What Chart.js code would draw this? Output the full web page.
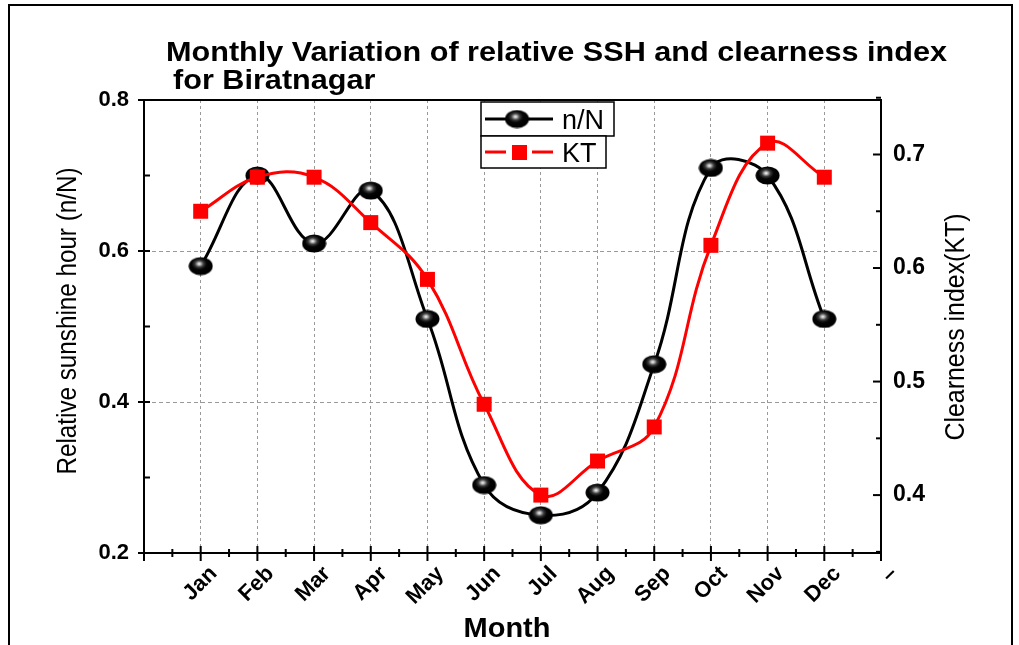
<!DOCTYPE html>
<html><head><meta charset="utf-8">
<script src="https://cdn.jsdelivr.net/npm/chart.js@4.4.1/dist/chart.umd.min.js"></script>
<style>
html,body{margin:0;padding:0;background:#fff;}
#wrap{position:relative;width:1019px;height:645px;overflow:hidden;background:#fff;}
canvas{display:block;}
</style></head><body>
<div id="wrap"><canvas id="c" width="1019" height="645"></canvas></div>
<script>
// ---- data ----
const months = ['Jan','Feb','Mar','Apr','May','Jun','Jul','Aug','Sep','Oct','Nov','Dec'];
const xTickLabels = ['', 'Jan','Feb','Mar','Apr','May','Jun','Jul','Aug','Sep','Oct','Nov','Dec', '–'];
const relSSH = [0.58, 0.70, 0.61, 0.68, 0.51, 0.29, 0.25, 0.28, 0.45, 0.71, 0.70, 0.51];
const clearnessKT = [0.65, 0.68, 0.68, 0.64, 0.59, 0.48, 0.40, 0.43, 0.46, 0.62, 0.71, 0.68];
const leftTicks = [0.2, 0.4, 0.6, 0.8];
const rightTicks = [0.4, 0.5, 0.6, 0.7];
const titleLines = ['Monthly Variation of relative SSH and clearness index', 'for Biratnagar'];
const seriesNames = ['n/N', 'KT'];
const xTitle = 'Month';
const yTitle = 'Relative sunshine hour (n/N)';
const y1Title = 'Clearness index(KT)';

const FONT = '"Liberation Sans", Arial, sans-serif';

function makeSphere(w, h) {
  const c = document.createElement('canvas');
  c.width = w; c.height = h;
  const g = c.getContext('2d');
  g.save();
  g.translate(w / 2, h / 2);
  g.scale(1, h / w);
  const grd = g.createRadialGradient(-1.5, -3, 0, -1.5, -3, w / 2);
  grd.addColorStop(0, '#ffffff');
  grd.addColorStop(0.12, '#c0c0c0');
  grd.addColorStop(0.35, '#3a3a3a');
  grd.addColorStop(0.6, '#050505');
  grd.addColorStop(1, '#000000');
  g.fillStyle = grd;
  g.beginPath();
  g.arc(0, 0, w / 2 - 0.5, 0, Math.PI * 2);
  g.fill();
  g.restore();
  return c;
}
const sphere = makeSphere(25, 19);

function fitText(ctx, text, x, y, font, targetW, align, rot, baseline) {
  ctx.save();
  ctx.font = font;
  const w = ctx.measureText(text).width;
  const sx = targetW ? targetW / w : 1;
  ctx.translate(x, y);
  if (rot) ctx.rotate(rot);
  ctx.scale(sx, 1);
  ctx.textAlign = align || 'left';
  ctx.textBaseline = baseline || 'alphabetic';
  ctx.fillStyle = '#000';
  ctx.fillText(text, 0, 0);
  ctx.restore();
  return sx;
}

function seg(ctx, x1, y1, x2, y2) {
  ctx.beginPath(); ctx.moveTo(x1, y1); ctx.lineTo(x2, y2); ctx.stroke();
}

const decor = {
  id: 'decor',
  afterDraw(chart) {
    const ctx = chart.ctx;
    const a = chart.chartArea;
    const xs = chart.scales.x, ys = chart.scales.y, y1s = chart.scales.y1;
    ctx.save();
    ctx.strokeStyle = '#000';
    ctx.lineWidth = 2;
    seg(ctx, a.left - 1, a.top, a.right + 1, a.top);
    for (let i = 0; i <= 26; i++) {
      const px = xs.getPixelForValue(i / 2);
      if (i % 2 === 0) seg(ctx, px, a.bottom - 7, px, a.bottom + 8);
      else seg(ctx, px, a.bottom - 4, px, a.bottom + 4);
    }
    for (let i = 2; i <= 8; i++) {
      const py = ys.getPixelForValue(i / 10);
      if (i % 2 === 0) seg(ctx, a.left - 6, py, a.left + 6, py);
      else seg(ctx, a.left, py, a.left + 6, py);
    }
    for (let i = 7; i <= 15; i++) {
      const py = y1s.getPixelForValue(i / 20);
      if (i % 2 === 0) seg(ctx, a.right - 8, py, a.right, py);
      else seg(ctx, a.right - 5, py, a.right, py);
    }
    ctx.beginPath();
    ctx.moveTo(9, 650); ctx.lineTo(9, 5); ctx.lineTo(1012, 5); ctx.lineTo(1012, 650);
    ctx.stroke();

    const sx = fitText(ctx, titleLines[0], 166, 61, 'bold 27px ' + FONT, 781, 'left');
    ctx.save();
    ctx.font = 'bold 27px ' + FONT;
    ctx.translate(173, 89); ctx.scale(sx, 1); ctx.fillStyle = '#000';
    ctx.fillText(titleLines[1], 0, 0);
    ctx.restore();
    fitText(ctx, xTitle, 507, 637, 'bold 27px ' + FONT, 87, 'center');
    fitText(ctx, yTitle, 76, 321, '27px ' + FONT, 307, 'center', -Math.PI / 2, 'alphabetic');
    fitText(ctx, y1Title, 964, 327, '28px ' + FONT, 227, 'center', -Math.PI / 2, 'alphabetic');

    const ds = chart.data.datasets;
    ctx.lineWidth = 1.5;
    ctx.fillStyle = '#fff';
    ctx.strokeStyle = '#000';
    ctx.fillRect(481, 102, 133, 34); ctx.strokeRect(481, 102, 133, 34);
    ctx.fillRect(481, 136, 125, 32); ctx.strokeRect(481, 136, 125, 32);
    const dN = ds.find(d => d.label === seriesNames[0]);
    ctx.strokeStyle = dN.borderColor; ctx.lineWidth = 3;
    seg(ctx, 485, 119, 553, 119);
    ctx.drawImage(sphere, 517 - 12.5, 119 - 9.5);
    ctx.fillStyle = '#000';
    ctx.font = '27px ' + FONT;
    ctx.textAlign = 'left'; ctx.textBaseline = 'alphabetic';
    ctx.fillText(dN.label, 562, 129);
    const dK = ds.find(d => d.label === seriesNames[1]);
    ctx.strokeStyle = dK.borderColor; ctx.lineWidth = 3;
    seg(ctx, 485, 152, 506, 152);
    seg(ctx, 532, 152, 553, 152);
    ctx.fillStyle = dK.pointBackgroundColor;
    ctx.fillRect(512, 145, 15, 15);
    ctx.fillStyle = '#000';
    ctx.fillText(dK.label, 562, 162);
    ctx.restore();
  }
};

const nearly = (a, b) => Math.abs(a - b) < 1e-6;

new Chart(document.getElementById('c'), {
  type: 'line',
  data: {
    datasets: [
      {
        label: seriesNames[0],
        data: relSSH.map((v, i) => ({ x: i + 1, y: v })),
        yAxisID: 'y',
        borderColor: '#000000',
        borderWidth: 3,
        tension: 0.4,
        pointStyle: sphere,
        pointRadius: 10,
        order: 1,
        clip: false
      },
      {
        label: seriesNames[1],
        data: clearnessKT.map((v, i) => ({ x: i + 1, y: v })),
        yAxisID: 'y1',
        borderColor: '#ff0000',
        backgroundColor: '#ff0000',
        pointBackgroundColor: '#ff0000',
        pointBorderColor: '#ff0000',
        pointBorderWidth: 0,
        borderWidth: 3,
        tension: 0.4,
        pointStyle: 'rect',
        pointRadius: 10.6,
        order: 0,
        clip: false
      }
    ]
  },
  options: {
    responsive: false,
    animation: false,
    events: [],
    layout: { padding: { top: 100, left: 0, right: 0, bottom: 0 } },
    plugins: { legend: { display: false }, title: { display: false }, tooltip: { enabled: false } },
    scales: {
      x: {
        type: 'linear',
        position: 'bottom',
        min: 0, max: 13,
        afterBuildTicks: s => { s.ticks = xTickLabels.map((_, i) => ({ value: i })); },
        afterFit: s => { s.height = 645 - 553; },
        ticks: {
          autoSkip: false,
          maxRotation: 45, minRotation: 45,
          padding: 8,
          labelOffset: 13,
          color: '#000',
          font: { family: FONT, size: 22, weight: 'bold' },
          callback: v => xTickLabels[v] ?? ''
        },
        grid: {
          drawTicks: false,
          lineWidth: 1,
          color: c => (c.tick && c.tick.value >= 1 && c.tick.value <= 12) ? '#9a9a9a' : 'rgba(0,0,0,0)'
        },
        border: { display: true, color: '#000', width: 2, dash: [3, 3] }
      },
      y: {
        type: 'linear',
        position: 'left',
        min: 0.2, max: 0.8,
        afterBuildTicks: s => { s.ticks = leftTicks.map(v => ({ value: v })); },
        afterFit: s => { s.width = 144; },
        ticks: {
          padding: 15,
          color: '#000',
          font: { family: FONT, size: 22, weight: 'bold' },
          callback: v => v.toFixed(1)
        },
        grid: {
          drawTicks: false,
          lineWidth: 1,
          color: c => (c.tick && (nearly(c.tick.value, 0.4) || nearly(c.tick.value, 0.6))) ? '#9a9a9a' : 'rgba(0,0,0,0)'
        },
        border: { display: true, color: '#000', width: 2, dash: [4, 3] }
      },
      y1: {
        type: 'linear',
        position: 'right',
        min: 0.349, max: 0.748,
        afterBuildTicks: s => { s.ticks = rightTicks.map(v => ({ value: v })); },
        afterFit: s => { s.width = 1019 - 881; },
        ticks: {
          padding: 12,
          color: '#000',
          font: { family: FONT, size: 23, weight: 'bold' },
          callback: v => v.toFixed(1)
        },
        grid: { drawTicks: false, color: 'rgba(0,0,0,0)' },
        border: { display: true, color: '#000', width: 2 }
      }
    }
  },
  plugins: [decor]
});
</script>
</body></html>
